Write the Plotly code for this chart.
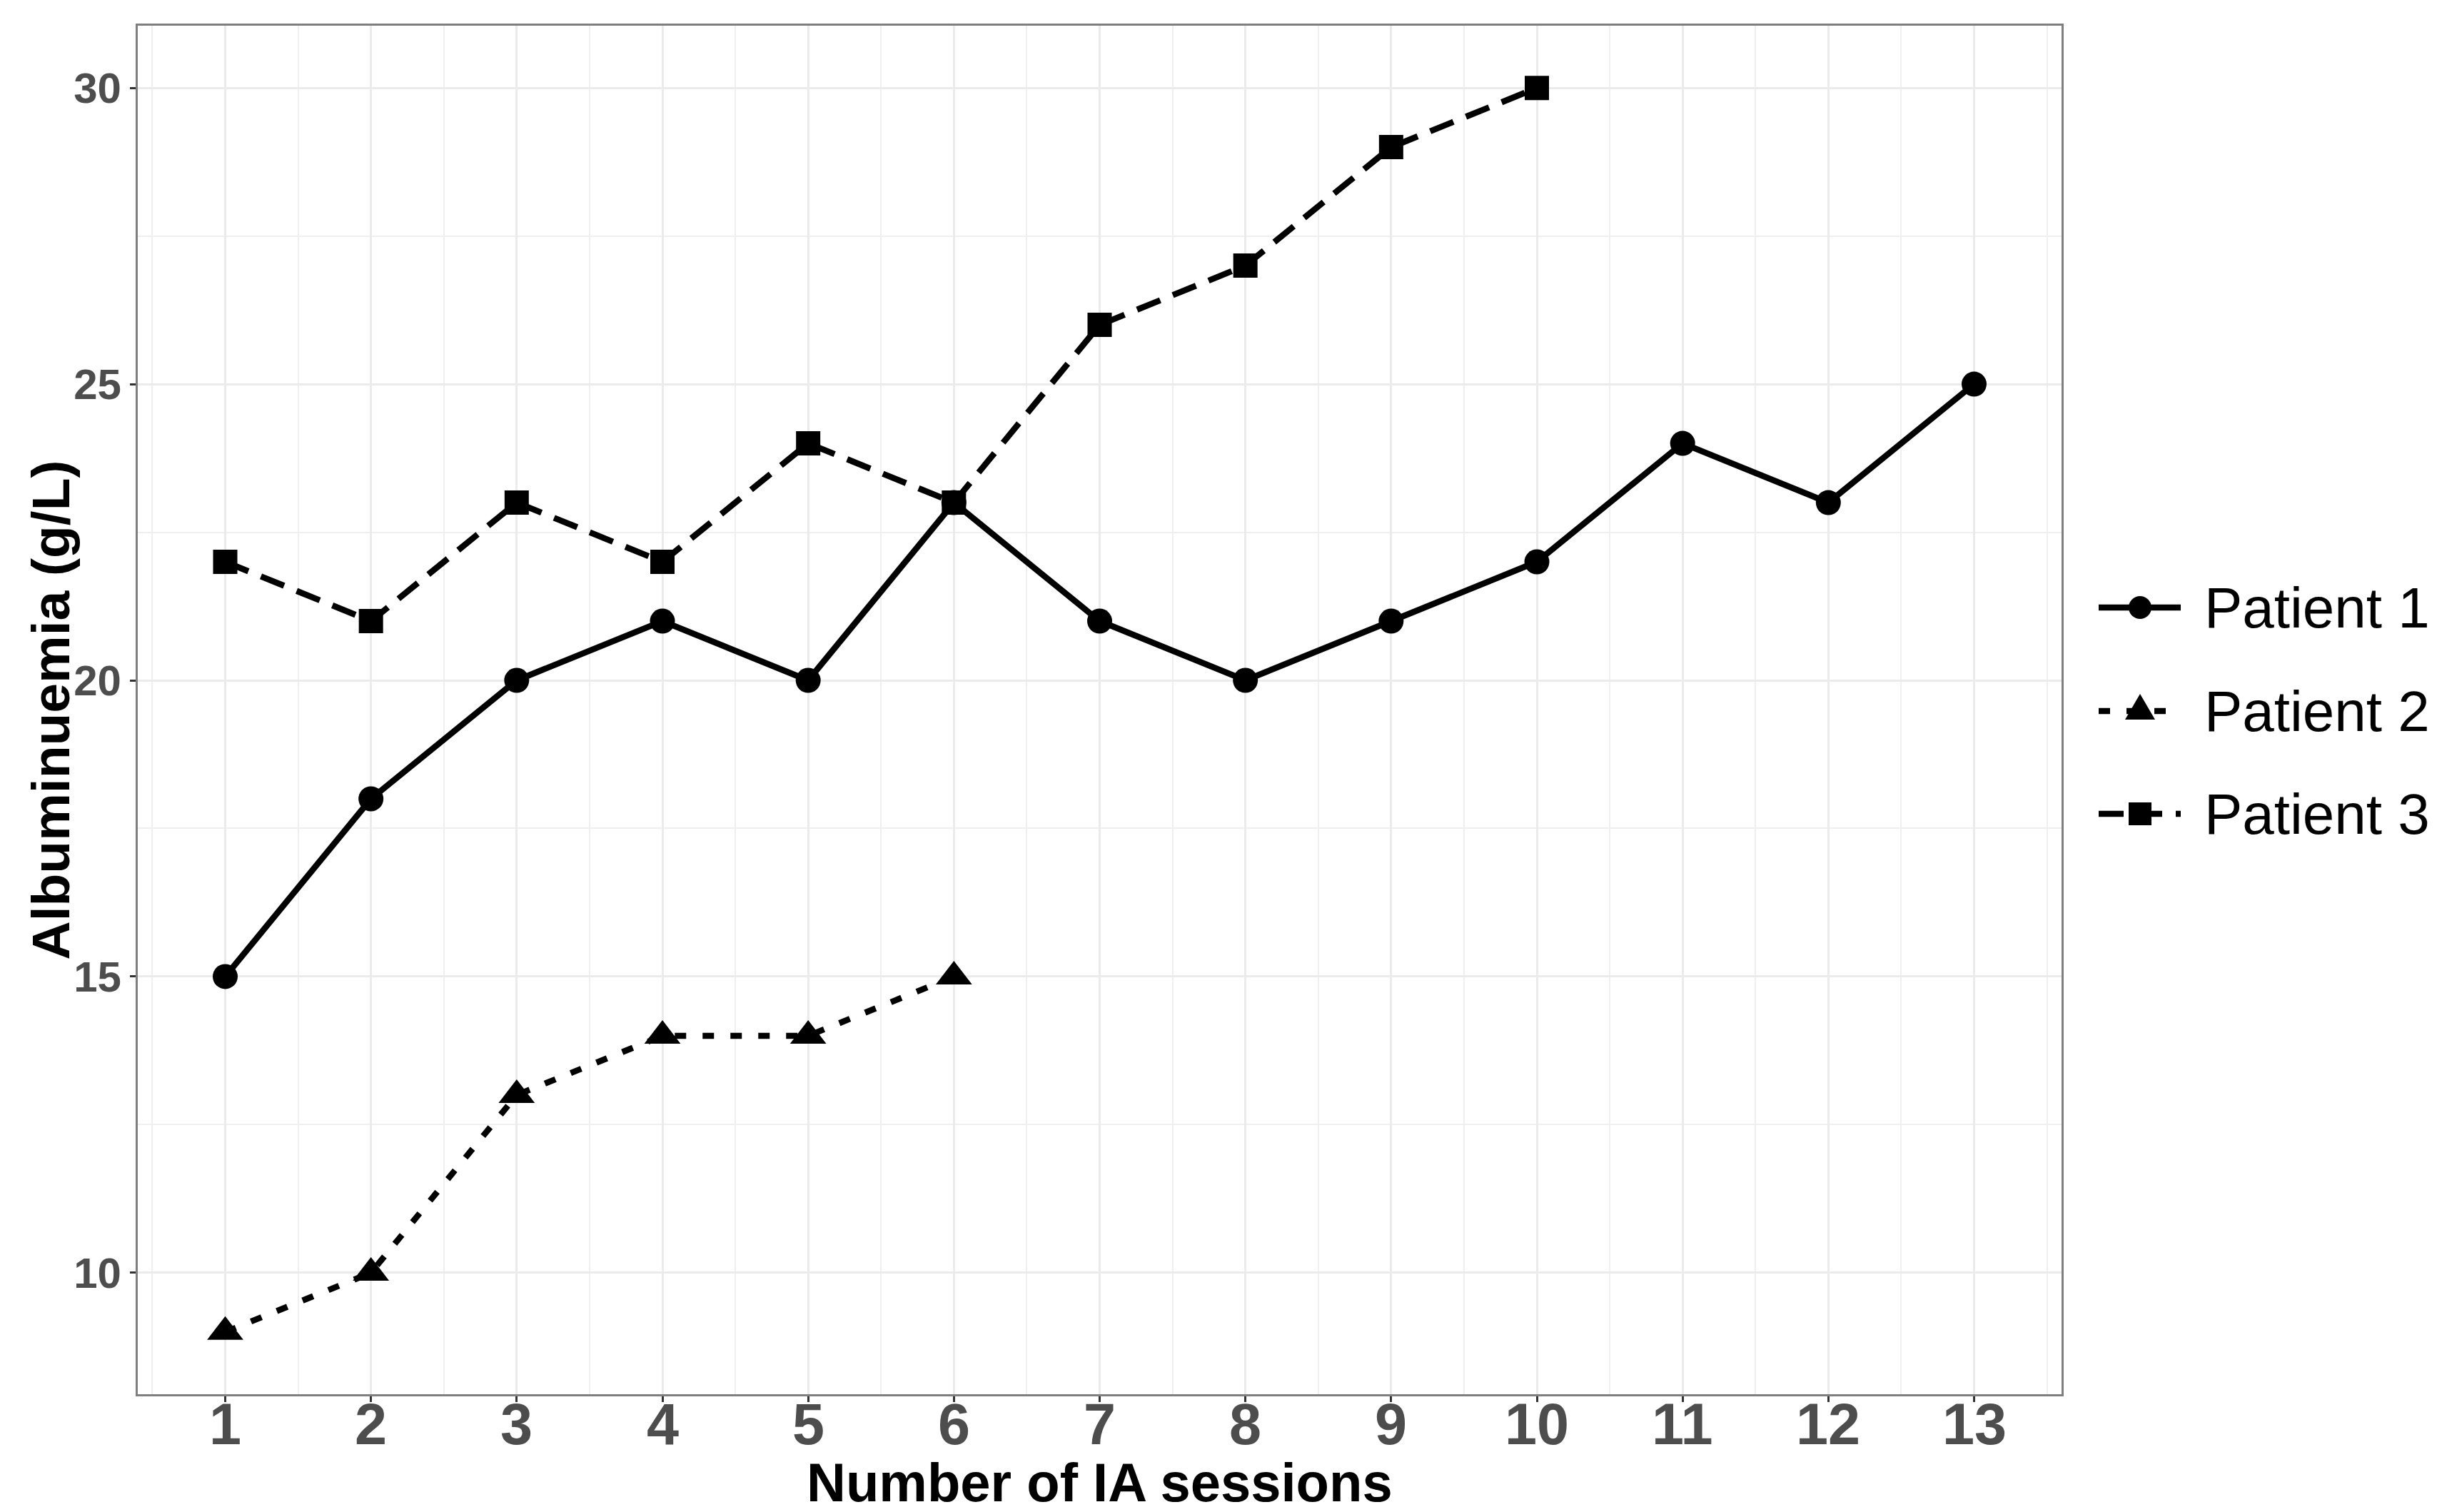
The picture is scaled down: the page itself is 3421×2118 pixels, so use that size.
import plotly.graph_objects as go

sessions_p1 = [1, 2, 3, 4, 5, 6, 7, 8, 9, 10, 11, 12, 13]
albumin_p1 = [15, 18, 20, 21, 20, 23, 21, 20, 21, 22, 24, 23, 25]

sessions_p2 = [1, 2, 3, 4, 5, 6]
albumin_p2 = [9, 10, 13, 14, 14, 15]

sessions_p3 = [1, 2, 3, 4, 5, 6, 7, 8, 9, 10]
albumin_p3 = [22, 21, 23, 22, 24, 23, 26, 27, 29, 30]

series_names = ["Patient 1", "Patient 2", "Patient 3"]
x_ticks = list(range(1, 14))
x_tick_labels = [str(v) for v in x_ticks]
y_ticks = [10, 15, 20, 25, 30]
y_tick_labels = [str(v) for v in y_ticks]

W, H = 3421, 2118
L, R, T, B = 185, 541, 28, 173
PW, PH = W - L - R, H - T - B

FONT = "Liberation Sans, Arial, Helvetica, sans-serif"
LW = 8.5
styles = [
    dict(dash="solid", symbol="circle", size=35),
    dict(dash="16px,23px", symbol="triangle-up", size=44),
    dict(dash="35px,19px", symbol="square", size=34),
]
data = [(sessions_p1, albumin_p1), (sessions_p2, albumin_p2), (sessions_p3, albumin_p3)]


def px_to_paper_x(px):
    return (px - L) / PW


def px_to_paper_y(py):
    return (H - B - py) / PH


fig = go.Figure()
for name, (xs, ys), st in zip(series_names, data, styles):
    fig.add_trace(go.Scatter(
        x=xs, y=ys, name=name, mode="lines+markers",
        line=dict(color="black", width=LW, dash=st["dash"]),
        marker=dict(symbol=st["symbol"], size=st["size"], color="black"),
        showlegend=False,
    ))

# legend (ggplot style: long key line with the marker in its middle)
legend_rows_px = [843, 988, 1132]
key_x0, key_x1, key_xc, text_x = 2932, 3047, 2990, 3078
shapes = []
annotations = []
for name, st, ry in zip(series_names, styles, legend_rows_px):
    yp = px_to_paper_y(ry)
    shapes.append(dict(
        type="line", xref="paper", yref="paper",
        x0=px_to_paper_x(key_x0), x1=px_to_paper_x(key_x1), y0=yp, y1=yp,
        line=dict(color="black", width=LW, dash=st["dash"]), layer="above",
    ))
    common = dict(xref="paper", yref="paper", xsizemode="pixel", ysizemode="pixel",
                  xanchor=px_to_paper_x(key_xc), yanchor=yp,
                  fillcolor="black", line=dict(width=0), layer="above")
    if st["symbol"] == "circle":
        shapes.append(dict(type="circle", x0=-16, x1=16, y0=-16, y1=16, **common))
    elif st["symbol"] == "square":
        shapes.append(dict(type="rect", x0=-16, x1=16, y0=-16, y1=16, **common))
    else:
        shapes.append(dict(type="path", path="M -21,-12 L 21,-12 L 0,24 Z", **common))
    annotations.append(dict(
        text=name, xref="paper", yref="paper", x=px_to_paper_x(text_x), y=yp,
        xanchor="left", yanchor="middle", showarrow=False,
        font=dict(size=80, color="black", family=FONT),
    ))

# x tick labels (placed closer to the axis, as in the reference)
for v, lab in zip(x_ticks, x_tick_labels):
    annotations.append(dict(
        text=f"<b>{lab}</b>", xref="x", yref="paper", x=v, y=px_to_paper_y(1987),
        xanchor="center", yanchor="middle", showarrow=False,
        font=dict(size=81, color="#4D4D4D", family=FONT),
    ))

# axis titles
annotations.append(dict(
    text="<b>Number of IA sessions</b>", xref="paper", yref="paper",
    x=0.5, y=px_to_paper_y(2068), xanchor="center", yanchor="middle", showarrow=False,
    font=dict(size=76, color="black", family=FONT),
))
annotations.append(dict(
    text="<b>Albuminuemia (g/L)</b>", xref="paper", yref="paper",
    x=px_to_paper_x(62), y=0.5, xanchor="center", yanchor="middle", showarrow=False,
    textangle=-90, font=dict(size=75, color="black", family=FONT),
))

fig.update_layout(
    width=W, height=H,
    margin=dict(l=L, r=R, t=T, b=B),
    paper_bgcolor="white",
    plot_bgcolor="white",
    font=dict(family=FONT, color="black"),
    showlegend=False,
    shapes=shapes,
    annotations=annotations,
)

fig.update_xaxes(
    range=[0.4, 13.6],
    tickmode="array", tickvals=x_ticks, ticktext=x_tick_labels,
    showticklabels=False,
    ticks="outside", ticklen=8, tickwidth=3, tickcolor="#333333",
    showgrid=True, gridcolor="#EBEBEB", gridwidth=3,
    minor=dict(tickmode="linear", tick0=0.5, dtick=1, showgrid=True, gridcolor="#EFEFEF", gridwidth=1.5, ticks=""),
    showline=True, linecolor="#7F7F7F", linewidth=3, mirror=True,
    zeroline=False,
)
fig.update_yaxes(
    range=[7.95, 31.05],
    tickmode="array", tickvals=y_ticks, ticktext=y_tick_labels,
    tickfont=dict(size=60, color="#4D4D4D", family=FONT, weight="bold"),
    ticks="outside", ticklen=8, tickwidth=3, tickcolor="#333333",
    showgrid=True, gridcolor="#EBEBEB", gridwidth=3,
    minor=dict(tickmode="linear", tick0=7.5, dtick=5, showgrid=True, gridcolor="#EFEFEF", gridwidth=1.5, ticks=""),
    showline=True, linecolor="#7F7F7F", linewidth=3, mirror=True,
    zeroline=False,
)

fig.write_html("out.html")
